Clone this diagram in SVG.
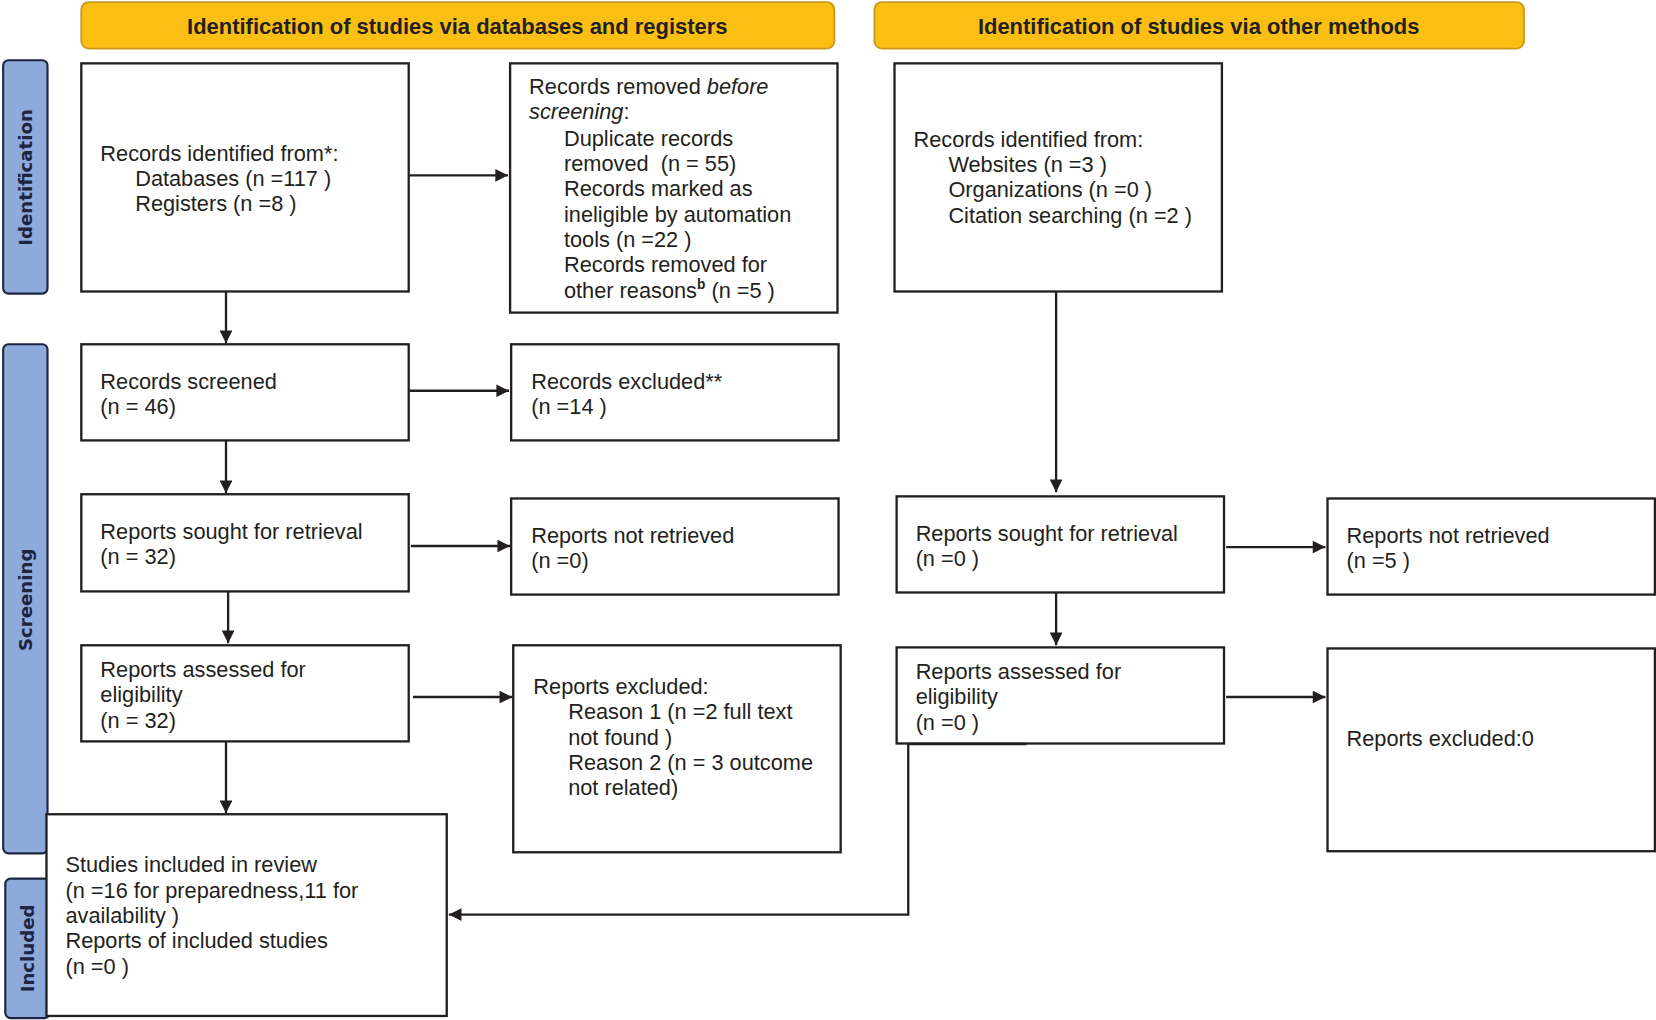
<svg xmlns="http://www.w3.org/2000/svg" width="1656" height="1020" viewBox="0 0 1656 1020">
<style>
.box{fill:#fff;stroke:#231f20;stroke-width:2.2}
.ban{fill:#fbbf14;stroke:#c99a1c;stroke-width:1.8}
.side{fill:#8eaadb;stroke:#1c2541;stroke-width:2}
.t{font-family:"Liberation Sans",Arial,sans-serif;font-size:20.6px;fill:#231f20}
.bt{font-family:"Liberation Sans",Arial,sans-serif;font-size:20.8px;font-weight:bold;fill:#231f20;text-anchor:middle}
.st{font-family:"DejaVu Sans",Verdana,sans-serif;font-size:17.2px;font-weight:bold;fill:#1c2541;text-anchor:middle}
.ln{fill:none;stroke:#231f20;stroke-width:2.2}
</style>
<defs>
<marker id="ah" viewBox="0 0 10 10" refX="10" refY="5" markerWidth="14" markerHeight="12" markerUnits="userSpaceOnUse" orient="auto">
<path d="M0,0 L10,5 L0,10 z" fill="#231f20"/>
</marker>
</defs>
<rect width="1656" height="1020" fill="#fff"/>
<g transform="scale(1.0561)">
<g id="banner-db"><rect class="ban" x="77" y="2" width="713" height="44" rx="7"/><text class="bt" x="433" y="32">Identification of studies via databases and registers</text></g>
<g id="banner-other"><rect class="ban" x="828" y="2" width="615" height="44" rx="7"/><text class="bt" x="1135" y="32">Identification of studies via other methods</text></g>
<g id="side-identification"><rect class="side" x="3" y="57" width="42" height="221" rx="5"/><text class="st" transform="translate(30.5 168) rotate(-90)">Identification</text></g>
<g id="side-screening"><rect class="side" x="3" y="326" width="42" height="482" rx="5"/><text class="st" transform="translate(30.5 568) rotate(-90)">Screening</text></g>
<g id="side-included"><rect class="side" x="5" y="832" width="42" height="132" rx="5"/><text class="st" transform="translate(32.5 898) rotate(-90)">Included</text></g>

<g id="records-identified"><rect class="box" x="77" y="60" width="310" height="216"/>
<text class="t" x="95" y="152">Records identified from*:</text>
<text class="t" x="128" y="176">Databases (n =117 )</text>
<text class="t" x="128" y="200">Registers (n =8 )</text></g>

<g id="records-removed"><rect class="box" x="483" y="60" width="310" height="236"/>
<text class="t" x="501" y="89">Records removed <tspan font-style="italic">before</tspan></text>
<text class="t" x="501" y="113"><tspan font-style="italic">screening</tspan>:</text>
<text class="t" x="534" y="138">Duplicate records</text>
<text class="t" x="534" y="162">removed &#160;(n = 55)</text>
<text class="t" x="534" y="186">Records marked as</text>
<text class="t" x="534" y="210">ineligible by automation</text>
<text class="t" x="534" y="234">tools (n =22 )</text>
<text class="t" x="534" y="258">Records removed for</text>
<text class="t" x="534" y="282">other reasons<tspan font-size="13" font-weight="bold" dy="-8">b</tspan><tspan dy="8"> (n =5 )</tspan></text></g>

<g id="records-identified-other"><rect class="box" x="847" y="60" width="310" height="216"/>
<text class="t" x="865" y="139">Records identified from:</text>
<text class="t" x="898" y="163">Websites (n =3 )</text>
<text class="t" x="898" y="187">Organizations (n =0 )</text>
<text class="t" x="898" y="211">Citation searching (n =2 )</text></g>

<g id="records-screened"><rect class="box" x="77" y="326" width="310" height="91"/>
<text class="t" x="95" y="368">Records screened</text>
<text class="t" x="95" y="392">(n = 46)</text></g>

<g id="records-excluded"><rect class="box" x="484" y="326" width="310" height="91"/>
<text class="t" x="503" y="368">Records excluded**</text>
<text class="t" x="503" y="392">(n =14 )</text></g>

<g id="reports-sought"><rect class="box" x="77" y="468" width="310" height="92"/>
<text class="t" x="95" y="510">Reports sought for retrieval</text>
<text class="t" x="95" y="534">(n = 32)</text></g>

<g id="reports-not-retrieved"><rect class="box" x="484" y="472" width="310" height="91"/>
<text class="t" x="503" y="514">Reports not retrieved</text>
<text class="t" x="503" y="538">(n =0)</text></g>

<g id="reports-assessed"><rect class="box" x="77" y="611" width="310" height="91"/>
<text class="t" x="95" y="641">Reports assessed for</text>
<text class="t" x="95" y="665">eligibility</text>
<text class="t" x="95" y="689">(n = 32)</text></g>

<g id="reports-excluded"><rect class="box" x="486" y="611" width="310" height="196"/>
<text class="t" x="505" y="657">Reports excluded:</text>
<text class="t" x="538" y="681">Reason 1 (n =2 full text</text>
<text class="t" x="538" y="705">not found )</text>
<text class="t" x="538" y="729">Reason 2 (n = 3 outcome</text>
<text class="t" x="538" y="753">not related)</text></g>

<g id="studies-included"><rect class="box" x="44" y="771" width="379" height="191"/>
<text class="t" x="62" y="826">Studies included in review</text>
<text class="t" x="62" y="850">(n =16 for preparedness,11 for</text>
<text class="t" x="62" y="874">availability )</text>
<text class="t" x="62" y="898">Reports of included studies</text>
<text class="t" x="62" y="922">(n =0 )</text></g>

<g id="reports-sought-other"><rect class="box" x="849" y="470" width="310" height="91"/>
<text class="t" x="867" y="512">Reports sought for retrieval</text>
<text class="t" x="867" y="536">(n =0 )</text></g>

<g id="reports-not-retrieved-other"><rect class="box" x="1257" y="472" width="310" height="91"/>
<text class="t" x="1275" y="514">Reports not retrieved</text>
<text class="t" x="1275" y="538">(n =5 )</text></g>

<g id="reports-assessed-other"><rect class="box" x="849" y="613" width="310" height="91"/>
<text class="t" x="867" y="643">Reports assessed for</text>
<text class="t" x="867" y="667">eligibility</text>
<text class="t" x="867" y="691">(n =0 )</text></g>

<g id="reports-excluded-other"><rect class="box" x="1257" y="614" width="310" height="192"/>
<text class="t" x="1275" y="706">Reports excluded:0</text></g>

<g id="connectors">
<line class="ln" x1="387" y1="166" x2="481" y2="166" marker-end="url(#ah)"/>
<line class="ln" x1="214" y1="276" x2="214" y2="325" marker-end="url(#ah)"/>
<line class="ln" x1="387" y1="370" x2="482" y2="370" marker-end="url(#ah)"/>
<line class="ln" x1="214" y1="417" x2="214" y2="467" marker-end="url(#ah)"/>
<line class="ln" x1="389" y1="517" x2="483" y2="517" marker-end="url(#ah)"/>
<line class="ln" x1="216" y1="560" x2="216" y2="609" marker-end="url(#ah)"/>
<line class="ln" x1="391" y1="660" x2="485" y2="660" marker-end="url(#ah)"/>
<line class="ln" x1="214" y1="702" x2="214" y2="770" marker-end="url(#ah)"/>
<line class="ln" x1="1000" y1="276" x2="1000" y2="466" marker-end="url(#ah)"/>
<line class="ln" x1="1161" y1="518" x2="1255" y2="518" marker-end="url(#ah)"/>
<line class="ln" x1="1000" y1="561" x2="1000" y2="611" marker-end="url(#ah)"/>
<line class="ln" x1="1161" y1="660" x2="1255" y2="660" marker-end="url(#ah)"/>
<polyline class="ln" points="972,704.5 860,704.5 860,866 425,866" marker-end="url(#ah)"/>
</g>
</g>
</svg>
